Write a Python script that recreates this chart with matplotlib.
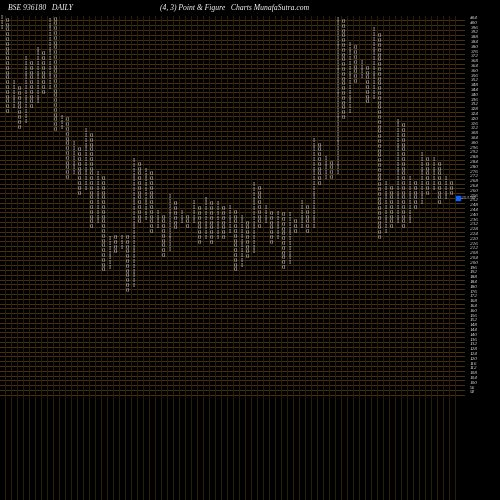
import numpy as np
import matplotlib.pyplot as plt

# point & figure columns: (top price, bottom price); even index = X, odd = O
col_tops = [404, 404, 352, 348, 372, 368, 380, 376, 404, 404, 323, 321, 300, 296, 312, 308,
            276, 271, 223, 221, 223, 221, 288, 283, 280, 276, 244, 240, 256, 252, 244, 240,
            252, 248, 256, 252, 252, 248, 248, 244, 240, 236, 267, 263, 248, 244, 244, 240,
            240, 236, 252, 248, 304, 300, 288, 284, 404, 404, 384, 380, 367, 363, 396, 392,
            267, 263, 321, 317, 271, 267, 292, 288, 288, 284, 271, 267]
col_bottoms = [396, 326, 330, 313, 318, 330, 334, 342, 346, 311, 313, 271, 275, 258, 262, 230,
               234, 194, 196, 209, 213, 177, 181, 234, 237, 226, 230, 206, 211, 229, 234, 230,
               234, 217, 221, 217, 221, 221, 226, 194, 198, 205, 209, 230, 234, 217, 221, 196,
               200, 226, 230, 226, 230, 266, 271, 271, 275, 321, 326, 351, 355, 334, 338, 221,
               226, 230, 234, 230, 234, 246, 250, 258, 262, 250, 254, 258]
last_price = 253.99
box = 4
axis_prices = list(range(404, 91, -4))

fig = plt.figure(figsize=(5, 5), dpi=100, facecolor='black')
ax = fig.add_axes([0, 0, 1, 1])
ax.set_facecolor('black')
ax.set_xlim(-0.25, 83.08)
ax.set_ylim(2.33, 419)
ax.axis('off')

grid_c = '#4a3110'
ncols = len(col_tops)
for p in axis_prices:
    ax.plot([-0.25, 77.0], [p - 2, p - 2], color=grid_c, lw=0.7, zorder=1)
for i in range(ncols + 1):
    ax.plot([i - 0.5, i - 0.5], [2.33, 406], color='#2e2008', lw=0.7, zorder=1)

for i, (t, b) in enumerate(zip(col_tops, col_bottoms)):
    mark = 'I' if i % 2 == 0 else '0'
    for p in np.arange(b, t + 1, box):
        ax.text(i, p, mark, color='#d8d8d8', fontsize=4.8, family='Liberation Serif',
                ha='center', va='center', zorder=3)

for p in axis_prices:
    ax.text(78.1, p, str(p), color='#e0e0e0', fontsize=3.8, family='Liberation Serif',
            ha='left', va='center', style='italic')

ax.scatter([ncols], [last_price], marker='s', s=8, color='#1060ff', zorder=4)
ax.text(ncols + 0.5, last_price, f'{last_price:.2f}', color='#d0d0d0', fontsize=3.8,
        family='Liberation Serif', ha='left', va='center', style='italic')

fig.text(0.016, 0.985, 'BSE 936180   DAILY', color='white', fontsize=5.5,
         family='Liberation Serif', style='italic', ha='left', va='center')
fig.text(0.32, 0.985, '(4, 3) Point & Figure   Charts MunafaSutra.com', color='white',
         fontsize=5.5, family='Liberation Serif', style='italic', ha='left', va='center')

fig.savefig('out.png', dpi=100, facecolor='black')
